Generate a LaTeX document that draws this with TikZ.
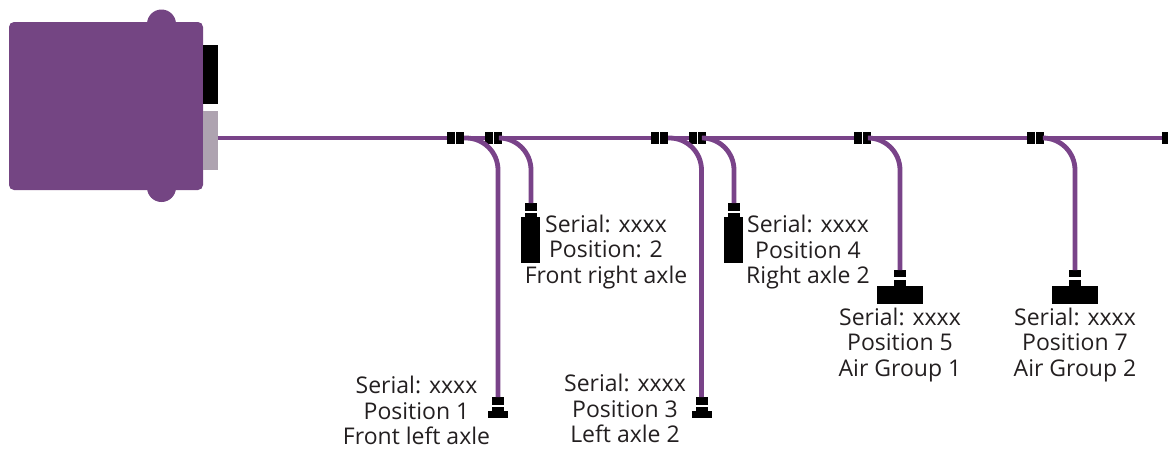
\documentclass[tikz,border=0pt]{standalone}
\usepackage{fontspec}
\setmainfont{Open Sans}
\definecolor{bodyc}{HTML}{744583}
\definecolor{wirec}{HTML}{794389}
\definecolor{greyc}{HTML}{AEA3B0}
\definecolor{textc}{HTML}{231F20}
\tikzset{
  blk/.style={fill=black,draw=none,inner sep=0pt,outer sep=0pt,minimum width=#1},
  cpl/.style={blk=8pt,minimum height=12pt},
  capa/.style={blk=12pt,minimum height=8pt},
  neck/.style={blk=12pt,minimum height=6pt},
  wire/.style={draw=wirec,line width=4.8pt},
  branch/.style={wire,rounded corners=32pt},
  lab/.style={align=center,text=textc,inner sep=0pt,font=\fontsize{23pt}{25.5pt}\selectfont},
  purp/.style={fill=bodyc,draw=none,inner sep=0pt,outer sep=0pt}
}
\begin{document}
\begin{tikzpicture}[x=1pt,y=-1pt]
\useasboundingbox (0,0) rectangle (1168,448);
% device
\node[purp,minimum width=29pt,minimum height=192.5pt,rounded corners=14.5pt] (lobe) at (161.5,105.75) {};
\node[purp,minimum width=194pt,minimum height=168pt,rounded corners=5pt] (body) at (106,106) {};
\node[blk=14.5pt,minimum height=59pt] (blackport) at (210.25,74.5) {};
\node[fill=greyc,draw=none,inner sep=0pt,outer sep=0pt,minimum width=14.5pt,minimum height=59pt] (greyport) at (210.25,140.5) {};
% couplers
\node[cpl] (c1a) at (451,138) {}; \node[cpl] (c1b) at (460,138) {};
\node[cpl] (c2a) at (489,138) {}; \node[cpl] (c2b) at (498,138) {};
\node[cpl] (c3a) at (655,138) {}; \node[cpl] (c3b) at (664,138) {};
\node[cpl] (c4a) at (692.75,138) {}; \node[cpl] (c4b) at (701.5,138) {};
\node[cpl] (c5a) at (858,138) {}; \node[cpl] (c5b) at (867,138) {};
\node[cpl] (c6a) at (1031,138) {}; \node[cpl] (c6b) at (1040,138) {};
\node[blk=6pt,minimum height=12pt] (endc) at (1165,138) {};
% sensor 1
\node[capa] (s1) at (498,401) {};
\node[blk=12pt,minimum height=5pt] (s1n) at (498,409.5) {};
\node[blk=20pt,minimum height=7pt] (s1b) at (498,414.5) {};
% sensor 2
\node[capa] (s2) at (531,207) {};
\node[blk=12pt,minimum height=5pt] (s2n) at (531,215.5) {};
\node[blk=19pt,minimum height=46pt] (s2b) at (530.5,240) {};
% sensor 3
\node[capa] (s3) at (701.5,401) {};
\node[blk=12pt,minimum height=5pt] (s3n) at (701.5,409.5) {};
\node[blk=20pt,minimum height=7pt] (s3b) at (701.5,414.5) {};
% sensor 4
\node[capa] (s4) at (734,207) {};
\node[blk=12pt,minimum height=5pt] (s4n) at (734,215.5) {};
\node[blk=19pt,minimum height=46pt] (s4b) at (733.5,240) {};
% sensor 5
\node[blk=12pt,minimum height=7pt] (s5) at (900,273.5) {};
\node[neck] (s5n) at (900,282.5) {};
\node[blk=46pt,minimum height=18.5pt] (s5b) at (900,295) {};
% sensor 7
\node[blk=12pt,minimum height=7pt] (s6) at (1075,273.5) {};
\node[neck] (s6n) at (1075,282.5) {};
\node[blk=46pt,minimum height=18.5pt] (s6b) at (1075,295) {};
% wires
\draw[wire] (greyport.east |- c1a.west) -- (c1a.west);
\draw[wire] (c1b.east) -- (c2a.west);
\draw[wire] (c2b.east) -- (c3a.west);
\draw[wire] (c3b.east) -- (c4a.west);
\draw[wire] (c4b.east) -- (c5a.west);
\draw[wire] (c5b.east) -- (c6a.west);
\draw[wire] (c6b.east) -- (endc.west);
\draw[branch] (c1b.east) -| (s1.north);
\draw[branch] (c2b.east) -| (s2.north);
\draw[branch] (c3b.east) -| (s3.north);
\draw[branch] (c4b.east) -| (s4.north);
\draw[branch] (c5b.east) -| (s5.north);
\draw[branch] (c6b.east) -| (s6.north);
% labels
\node[lab] (l1) at (416.5,410.5) {Serial: xxxx\\Position 1\\Front left axle};
\node[lab] (l2) at (606,252) {Serial: xxxx\\Position: 2\\Front right axle};
\node[lab] (l3) at (625,408.5) {Serial: xxxx\\Position 3\\Left axle 2};
\node[lab] (l4) at (808,252.5) {Serial: xxxx\\Position 4\\Right axle 2};
\node[lab] (l5) at (900,345) {Serial: xxxx\\Position 5\\Air Group 1};
\node[lab] (l6) at (1075,345) {Serial: xxxx\\Position 7\\Air Group 2};
\end{tikzpicture}
\end{document}
